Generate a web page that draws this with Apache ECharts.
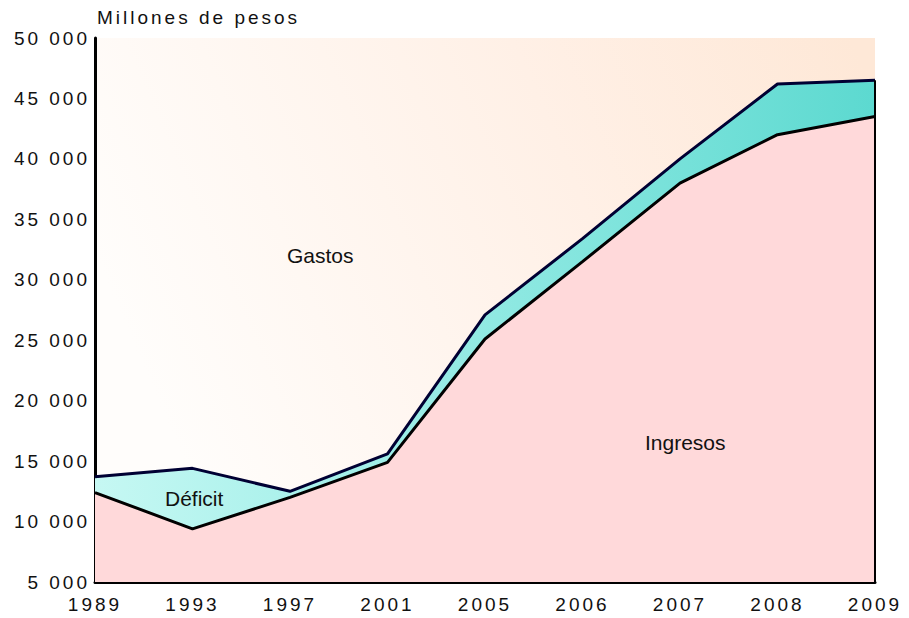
<!DOCTYPE html>
<html>
<head>
<meta charset="utf-8">
<script src="https://cdn.jsdelivr.net/npm/echarts@6/dist/echarts.min.js"></script>
<style>
  html, body { margin: 0; padding: 0; background: #fff; }
  #chart { width: 909px; height: 618px; }
  /* axis labels are spaced out in the original */
  #chart text[style*="Liberation Sans"] { letter-spacing: 3px; }
</style>
</head>
<body>
<div id="chart"></div>
<script>
const years = ['1989', '1993', '1997', '2001', '2005', '2006', '2007', '2008', '2009'];
const gastos = [13700, 14400, 12500, 15600, 27100, 33400, 40000, 46200, 46500];
const ingresos = [12400, 9400, 12000, 14900, 25100, 31500, 38000, 42000, 43500];

const axisFont = { fontFamily: 'Liberation Sans', fontSize: 19, color: '#111' };
const noteFont = { fontFamily: 'Arial', fontSize: 21, fill: '#111' };

const chart = echarts.init(document.getElementById('chart'), null, { renderer: 'svg' });

const last = years.length - 1;

chart.setOption({
  animation: false,
  grid: {
    left: 95, right: 34, top: 38, bottom: 36,
    show: true,
    borderWidth: 0,
    backgroundColor: new echarts.graphic.LinearGradient(0, 0.4, 1, 0.1, [
      { offset: 0, color: '#fffdfb' },
      { offset: 0.6, color: '#fff0e6' },
      { offset: 1, color: '#fee8d7' }
    ])
  },
  xAxis: {
    type: 'category',
    data: years,
    boundaryGap: false,
    axisLine: { lineStyle: { color: '#000', width: 3 } },
    axisTick: { show: false },
    axisLabel: Object.assign({ margin: 13 }, axisFont),
    splitLine: { show: false }
  },
  yAxis: {
    type: 'value',
    min: 5000,
    max: 50000,
    interval: 5000,
    axisLine: { show: true, lineStyle: { color: '#000', width: 3 } },
    axisTick: { show: false },
    splitLine: { show: false },
    axisLabel: Object.assign({
      margin: 5,
      formatter: v => String(v).replace(/\B(?=(\d{3})+(?!\d))/g, ' ')
    }, axisFont)
  },
  series: [
    {
      name: 'Gastos',
      type: 'line',
      data: gastos,
      symbol: 'none',
      z: 2,
      lineStyle: { color: '#000033', width: 3 },
      areaStyle: {
        origin: 'start',
        opacity: 1,
        color: new echarts.graphic.LinearGradient(0, 0, 1, 0, [
          { offset: 0, color: '#c6f8f3' },
          { offset: 0.3, color: '#a6f0ea' },
          { offset: 1, color: '#5cd9d0' }
        ])
      },
      markLine: {
        silent: true,
        symbol: 'none',
        label: { show: false },
        lineStyle: { color: '#000', width: 2, type: 'solid' },
        data: [[
          { coord: [years[last], 5000] },
          { coord: [years[last], gastos[last]] }
        ]]
      }
    },
    {
      name: 'Ingresos',
      type: 'line',
      data: ingresos,
      symbol: 'none',
      z: 3,
      lineStyle: { color: '#000', width: 3 },
      areaStyle: { origin: 'start', opacity: 1, color: '#ffd9da' }
    }
  ],
  graphic: [
    { type: 'text', z: 100, left: 97, top: 8, style: { text: 'Millones de pesos', font: '19px "Liberation Sans"', fill: '#111' } },
    { type: 'text', z: 100, left: 287, top: 245, style: Object.assign({ text: 'Gastos' }, noteFont) },
    { type: 'text', z: 100, left: 165, top: 488, style: Object.assign({ text: 'Déficit' }, noteFont) },
    { type: 'text', z: 100, left: 645, top: 432, style: Object.assign({ text: 'Ingresos' }, noteFont) }
  ]
});
</script>
</body>
</html>
